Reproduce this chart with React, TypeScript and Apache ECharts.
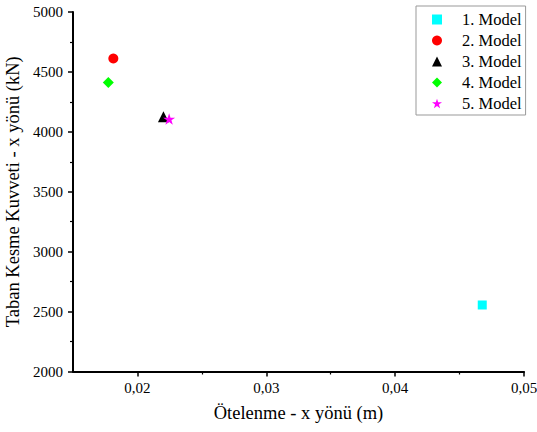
import React, { useEffect, useRef } from "react";
import * as echarts from "echarts";

const seriesNames = ["1. Model", "2. Model", "3. Model", "4. Model", "5. Model"];
const driftX = [0.04676, 0.01813, 0.02202, 0.01774, 0.02246];
const baseShear = [2555, 4612, 4125, 4412, 4107];
const xTicks = [0.02, 0.03, 0.04, 0.05];
const xMinorTicks = [0.025, 0.035, 0.045];
const colors = ["#00FFFF", "#FF0000", "#000000", "#00FF00", "#FF00FF"];
const symbols = [
  "rect",
  "circle",
  "triangle",
  "diamond",
  "path://M50,0 L61.2,34.5 L97.6,34.5 L68.2,55.9 L79.4,90.5 L50,69.1 L20.6,90.5 L31.8,55.9 L2.4,34.5 L38.8,34.5 Z",
];
const symbolSizes = [9, 10, 11, 11, 12];

const FONT = "Liberation Serif";

export default function App() {
  const ref = useRef<HTMLDivElement>(null);
  useEffect(() => {
    if (!ref.current) return;
    const chart = echarts.init(ref.current, undefined, { renderer: "svg" });
    const axisCommon = {
      axisLine: { show: true, onZero: false, lineStyle: { color: "#000", width: 2 } },
      axisTick: { show: true, inside: false, length: 5, lineStyle: { color: "#000", width: 1.5 } },
      minorTick: { show: true, splitNumber: 2, length: 3, lineStyle: { color: "#000", width: 1.2 } },
      splitLine: { show: false },
      minorSplitLine: { show: false },
      nameLocation: "middle" as const,
      nameTextStyle: { fontFamily: FONT, fontSize: 18.5, color: "#000" },
    };
    chart.setOption({
      animation: false,
      backgroundColor: "#fff",
      textStyle: { fontFamily: FONT },
      grid: {
        left: 73,
        right: 13,
        top: 12,
        bottom: 60.5,
        containLabel: false,
        outerBoundsMode: "none",
      },
      xAxis: [
        {
          type: "value",
          min: 0.015,
          max: 0.05,
          interval: 0.005,
          name: "Ötelenme - x yönü (m)",
          nameGap: 32,
          ...axisCommon,
          axisLabel: {
            fontFamily: FONT,
            fontSize: 15,
            color: "#000",
            margin: 9,
            customValues: xTicks,
            formatter: (v: number) => v.toFixed(2).replace(".", ","),
          },
          axisTick: {
            ...axisCommon.axisTick,
            customValues: xTicks,
          },
          minorTick: { show: false },
        },
        {
          type: "value",
          position: "bottom",
          min: 0.015,
          max: 0.05,
          interval: 0.005,
          axisLine: { show: false, onZero: false },
          axisLabel: { show: false },
          splitLine: { show: false },
          axisTick: {
            show: true,
            inside: false,
            length: 3,
            customValues: xMinorTicks,
            lineStyle: { color: "#000", width: 1.2 },
          },
        },
      ],
      yAxis: {
        type: "value",
        min: 2000,
        max: 5000,
        interval: 500,
        name: "Taban Kesme Kuvveti - x yönü (kN)",
        nameGap: 46,
        ...axisCommon,
        axisLabel: {
          fontFamily: FONT,
          fontSize: 15,
          color: "#000",
          margin: 10,
          formatter: (v: number) => String(v),
        },
      },
      legend: {
        orient: "vertical",
        left: 416,
        top: 6,
        padding: [5, 4, 3, 16],
        itemGap: 4,
        itemWidth: 10,
        itemHeight: 10,
        borderColor: "#999",
        borderWidth: 1,
        borderRadius: 0,
        backgroundColor: "#fff",
        textStyle: { fontFamily: FONT, fontSize: 16.5, color: "#000", padding: [0, 0, 0, 15] },
        data: seriesNames.map((n, i) => ({
          name: n,
          icon: symbols[i],
          itemStyle: { color: colors[i] },
        })),
      },
      series: seriesNames.map((n, i) => ({
        name: n,
        type: "scatter",
        xAxisIndex: 0,
        symbol: symbols[i],
        symbolSize: symbolSizes[i],
        symbolKeepAspect: true,
        itemStyle: { color: colors[i], opacity: 1 },
        data: [[driftX[i], baseShear[i]]],
      })),
    });
    return () => chart.dispose();
  }, []);
  return (
    <div
      ref={ref}
      style={{ position: "fixed", left: 0, top: 0, width: 537, height: 432, background: "#fff" }}
    />
  );
}
